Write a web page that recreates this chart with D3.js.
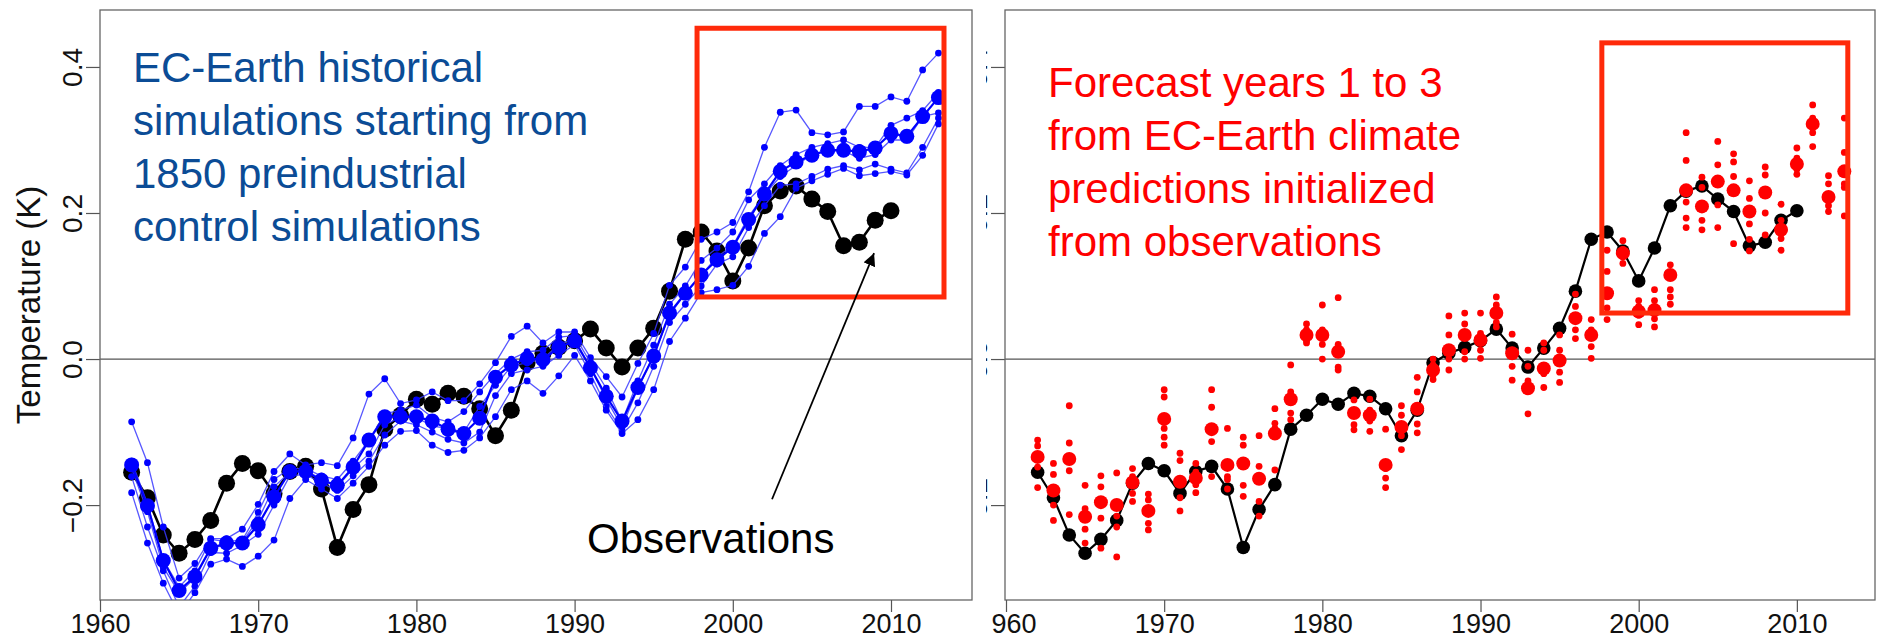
<!DOCTYPE html>
<html><head><meta charset="utf-8">
<script src="https://cdn.jsdelivr.net/npm/d3@7"></script>
<style>
body{margin:0;background:#fff;}
svg{display:block;font-family:"Liberation Sans",Arial,Helvetica,sans-serif;}
</style>
</head><body>
<svg id="c" width="1878" height="639"></svg>
<script>
// ---------------- DATA ----------------
const obsStart = 1962;
const observations = [-0.155,-0.190,-0.241,-0.266,-0.247,-0.221,-0.170,-0.143,-0.153,-0.184,
  -0.154,-0.147,-0.178,-0.258,-0.206,-0.172,-0.096,-0.077,-0.055,-0.062,
  -0.047,-0.051,-0.068,-0.105,-0.070,-0.005,0.008,0.016,0.025,0.041,
  0.015,-0.011,0.015,0.042,0.093,0.164,0.174,0.148,0.107,0.152,
  0.210,0.230,0.237,0.219,0.202,0.155,0.160,0.190,0.203];

const simStart = 1962;
const histMember1 = [-0.086,-0.142,-0.230,-0.300,-0.280,-0.246,-0.246,-0.233,-0.199,-0.154,
  -0.130,-0.145,-0.142,-0.146,-0.108,-0.048,-0.027,-0.061,-0.056,-0.045,
  -0.057,-0.057,-0.034,-0.005,0.031,0.045,0.022,0.037,0.037,0.002,
  -0.024,-0.052,-0.006,0.035,0.101,0.126,0.164,0.174,0.187,0.229,
  0.290,0.338,0.341,0.310,0.307,0.311,0.346,0.346,0.359,0.353,0.396,0.419];
const histMember2 = [-0.140,-0.198,-0.275,-0.312,-0.290,-0.247,-0.250,-0.248,-0.210,-0.165,
  -0.150,-0.150,-0.160,-0.165,-0.140,-0.111,-0.075,-0.070,-0.063,-0.080,
  -0.086,-0.072,-0.045,-0.020,0.000,0.010,0.012,0.030,0.032,-0.005,
  -0.040,-0.085,-0.030,0.019,0.075,0.100,0.135,0.152,0.174,0.218,
  0.240,0.265,0.280,0.290,0.295,0.300,0.290,0.290,0.320,0.330,0.340,0.365];
const histMember3 = [-0.150,-0.209,-0.285,-0.320,-0.300,-0.259,-0.255,-0.250,-0.220,-0.175,
  -0.155,-0.152,-0.165,-0.175,-0.150,-0.130,-0.090,-0.080,-0.080,-0.092,
  -0.095,-0.100,-0.065,-0.036,-0.010,-0.005,0.000,0.020,0.028,-0.012,
  -0.055,-0.093,-0.040,0.005,0.060,0.090,0.115,0.140,0.155,0.195,
  0.225,0.250,0.265,0.280,0.285,0.285,0.275,0.280,0.300,0.300,0.332,0.337];
const histMember4 = [-0.161,-0.230,-0.290,-0.340,-0.311,-0.265,-0.266,-0.255,-0.240,-0.200,
  -0.160,-0.158,-0.170,-0.180,-0.160,-0.140,-0.104,-0.085,-0.090,-0.100,
  -0.110,-0.115,-0.100,-0.050,-0.020,-0.015,-0.010,0.005,0.020,-0.020,
  -0.065,-0.098,-0.060,-0.010,0.050,0.075,0.100,0.130,0.140,0.180,
  0.210,0.238,0.240,0.250,0.260,0.265,0.259,0.267,0.260,0.255,0.290,0.330];
const histMember5 = [-0.183,-0.252,-0.307,-0.350,-0.320,-0.281,-0.274,-0.284,-0.270,-0.248,
  -0.191,-0.165,-0.178,-0.191,-0.170,-0.147,-0.118,-0.099,-0.098,-0.118,
  -0.128,-0.125,-0.108,-0.079,-0.042,-0.030,-0.047,-0.023,0.005,-0.030,
  -0.070,-0.102,-0.083,-0.042,0.024,0.056,0.091,0.095,0.101,0.127,
  0.172,0.195,0.234,0.244,0.253,0.261,0.251,0.254,0.257,0.252,0.279,0.322];
const histMean = [-0.145,-0.201,-0.276,-0.317,-0.298,-0.259,-0.252,-0.252,-0.227,-0.189,
  -0.154,-0.154,-0.166,-0.173,-0.148,-0.111,-0.079,-0.079,-0.079,-0.085,
  -0.096,-0.102,-0.081,-0.025,-0.008,0.001,-0.001,0.016,0.025,-0.012,
  -0.051,-0.085,-0.039,0.004,0.063,0.090,0.115,0.136,0.153,0.191,
  0.226,0.257,0.270,0.279,0.286,0.286,0.284,0.289,0.309,0.305,0.332,0.358];

const fcstStart = 1962;
const forecastMean = [-0.134,-0.180,-0.137,-0.216,-0.196,-0.200,-0.169,-0.208,-0.082,-0.168,
  -0.163,-0.096,-0.145,-0.143,-0.164,-0.102,-0.055,0.033,0.033,0.010,
  -0.074,-0.077,-0.145,-0.093,-0.068,-0.015,0.012,0.033,0.026,0.063,
  0.008,-0.040,-0.013,-0.002,0.056,0.033,0.090,0.145,0.065,0.067,
  0.115,0.231,0.209,0.243,0.231,0.202,0.228,0.177,0.267,0.322,0.222,0.257];
const forecastMembers = [
  [-0.111,-0.119,-0.148,-0.176],[-0.143,-0.158,-0.200,-0.221],[-0.064,-0.115,-0.153,-0.213],
  [-0.173,-0.205,-0.233,-0.252],[-0.160,-0.175,-0.218,-0.259],[-0.156,-0.215,-0.230,-0.271],
  [-0.150,-0.161,-0.184,-0.195],[-0.185,-0.193,-0.225,-0.234],[-0.042,-0.052,-0.095,-0.107,-0.118],
  [-0.129,-0.139,-0.190,-0.208],[-0.143,-0.155,-0.172,-0.183],[-0.042,-0.066,-0.113,-0.161],
  [-0.095,-0.161,-0.165,-0.178],[-0.107,-0.118,-0.173,-0.188],[-0.105,-0.147,-0.195,-0.215],
  [-0.068,-0.088,-0.095,-0.152],[-0.008,-0.045,-0.074,-0.083],[0.048,0.040,0.025,0.022],
  [0.074,0.040,0.020,0.000],[0.084,0.020,-0.011,-0.015],[-0.056,-0.072,-0.090,-0.097],
  [-0.055,-0.070,-0.085,-0.099],[-0.096,-0.150,-0.163,-0.176],[-0.064,-0.077,-0.105,-0.124],
  [-0.025,-0.045,-0.089,-0.101],[0.000,-0.008,-0.022,-0.028],[0.059,0.033,0.000,-0.015],
  [0.063,0.048,0.010,0.000],[0.063,0.035,0.012,0.001],[0.085,0.074,0.050,0.044],
  [0.034,0.012,-0.010,-0.029],[0.012,-0.010,-0.030,-0.075],[0.022,0.012,-0.020,-0.039],
  [0.033,0.012,-0.018,-0.032],[0.089,0.072,0.040,0.028],[0.054,0.040,0.017,0.001],
  [0.149,0.120,0.070,0.054],[0.162,0.150,0.140,0.131],[0.080,0.072,0.060,0.047],
  [0.095,0.080,0.055,0.044],[0.129,0.095,0.085,0.075],[0.310,0.272,0.215,0.193,0.180],
  [0.249,0.235,0.190,0.177],[0.298,0.266,0.211,0.180],[0.281,0.270,0.250,0.158],
  [0.244,0.220,0.185,0.164,0.148],[0.263,0.252,0.200,0.170],[0.212,0.190,0.165,0.149],
  [0.289,0.275,0.260,0.253],[0.348,0.330,0.310,0.291],[0.251,0.240,0.210,0.202],
  [0.330,0.283,0.240,0.235,0.196]];

const xTicks = [1960,1970,1980,1990,2000,2010];
const yTicks = [-0.2,0.0,0.2,0.4];
const yTitle = "Temperature (K)";
const leftText = ["EC-Earth historical","simulations starting from","1850 preindustrial","control simulations"];
const rightText = ["Forecast years 1 to 3","from EC-Earth climate","predictions initialized","from observations"];
const obsLabel = "Observations";
// highlight boxes (data coords): [year0, year1, vLow, vHigh]
const leftBox = [1997.74, 2013.35, 0.085, 0.453];
const rightBox = [1997.67, 2013.22, 0.063, 0.433];
const arrowFrom = [2002.48, -0.192], arrowTo = [2008.93, 0.145];

// ---------------- CHART ----------------
const svg = d3.select('#c');
const y = d3.scaleLinear().domain([-0.33, 0.478]).range([600, 10]);
const xL = d3.scaleLinear().domain([1960, 2015.12]).range([100, 972]);
const xR = d3.scaleLinear().domain([1960, 2014.94]).range([1006, 1875]);

const defs = svg.append('defs');
defs.append('clipPath').attr('id','clipL').append('rect').attr('x',100).attr('y',10).attr('width',872).attr('height',590);
defs.append('clipPath').attr('id','clipR').append('rect').attr('x',1005).attr('y',10).attr('width',870).attr('height',590);
defs.append('clipPath').attr('id','clipRA').append('rect').attr('x',986).attr('y',0).attr('width',892).attr('height',639);
defs.append('clipPath').attr('id','clipRX').append('rect').attr('x',991).attr('y',0).attr('width',887).attr('height',639);
defs.append('marker').attr('id','arr').attr('viewBox','0 0 10 10').attr('refX',10).attr('refY',5)
  .attr('markerWidth',7).attr('markerHeight',7).attr('markerUnits','strokeWidth').attr('orient','auto')
  .append('path').attr('d','M0,0 L10,5 L0,10 z').attr('fill','#000');

const tickFmt = d3.format('.1f');
function panel(x, left){
  const g = svg.append('g');
  if(!left) g.attr('clip-path','url(#clipRA)');
  const x0 = x.range()[0] - (left?0:1);
  const x1 = x.range()[1];
  g.append('line').attr('x1', x0).attr('x2', x1).attr('y1', y(0)).attr('y2', y(0))
    .attr('stroke','#555').attr('stroke-width',1.2);
  const gx = svg.append('g');
  if(!left) gx.attr('clip-path','url(#clipRX)');
  const ax = gx.append('g').attr('transform','translate(0,600)')
    .call(d3.axisBottom(x).tickValues(xTicks).tickSize(12).tickPadding(2).tickFormat(d3.format('d')));
  ax.select('.domain').remove();
  ax.selectAll('line').attr('stroke','#555').attr('stroke-width',1.2);
  ax.selectAll('text').attr('font-size',27).attr('fill','#111').attr('font-family','"Liberation Sans",Arial,sans-serif');
  const ay = g.append('g').attr('transform',`translate(${x0},0)`)
    .call(d3.axisLeft(y).tickValues(yTicks).tickSize(14).tickFormat(tickFmt));
  ay.select('.domain').remove();
  ay.selectAll('line').attr('stroke','#555').attr('stroke-width',1.2);
  ay.selectAll('text').attr('transform','rotate(-90)').attr('x',0).attr('y',-18).attr('dy',0)
    .attr('text-anchor','middle').attr('font-size',28).attr('fill','#111')
    .attr('font-family','"Liberation Sans",Arial,sans-serif');
  g.append('rect').attr('x',x0).attr('y',10).attr('width',x1-x0).attr('height',590)
    .attr('fill','none').attr('stroke','#666').attr('stroke-width',1.3);
  return g;
}
panel(xL, true);
panel(xR, false);

svg.append('text').attr('transform','translate(40,305) rotate(-90)').attr('text-anchor','middle')
  .attr('font-size',33).attr('fill','#111').text(yTitle);

// ---- left panel data
const gl = svg.append('g').attr('clip-path','url(#clipL)');
const obsYears = observations.map((_,i)=>obsStart+i);
const simYears = histMean.map((_,i)=>simStart+i);
function drawObs(g, x, lw, r){
  g.append('path').datum(observations)
    .attr('d', d3.line().x((d,i)=>x(obsYears[i])).y(d=>y(d)))
    .attr('fill','none').attr('stroke','#000').attr('stroke-width',lw);
  g.selectAll(null).data(observations).enter().append('circle')
    .attr('cx',(d,i)=>x(obsYears[i])).attr('cy',d=>y(d)).attr('r',r).attr('fill','#000');
}
drawObs(gl, xL, 2.6, 8.5);
[histMember1,histMember2,histMember3,histMember4,histMember5].forEach(m=>{
  gl.append('path').datum(m)
    .attr('d', d3.line().x((d,i)=>xL(simYears[i])).y(d=>y(d)))
    .attr('fill','none').attr('stroke','#3a3aff').attr('stroke-opacity',0.85).attr('stroke-width',1.3);
  gl.selectAll(null).data(m).enter().append('circle')
    .attr('cx',(d,i)=>xL(simYears[i])).attr('cy',d=>y(d)).attr('r',3.4).attr('fill','#0000ff');
});
gl.append('path').datum(histMean)
  .attr('d', d3.line().x((d,i)=>xL(simYears[i])).y(d=>y(d)))
  .attr('fill','none').attr('stroke','#0000ff').attr('stroke-width',2.2);
gl.selectAll(null).data(histMean).enter().append('circle')
  .attr('cx',(d,i)=>xL(simYears[i])).attr('cy',d=>y(d)).attr('r',7.5).attr('fill','#0000ff');

// ---- right panel data
const gr = svg.append('g').attr('clip-path','url(#clipR)');
drawObs(gr, xR, 2.2, 6.8);
const fYears = forecastMean.map((_,i)=>fcstStart+i);
forecastMembers.forEach((arr,i)=>{
  gr.selectAll(null).data(arr).enter().append('circle')
    .attr('cx',xR(fYears[i])).attr('cy',d=>y(d)).attr('r',3.4).attr('fill','#ff0000');
});
gr.selectAll(null).data(forecastMean).enter().append('circle')
  .attr('cx',(d,i)=>xR(fYears[i])).attr('cy',d=>y(d)).attr('r',7).attr('fill','#ff0000');

// ---- annotations
function box(x, b){
  svg.append('rect').attr('x',x(b[0])).attr('y',y(b[3]))
    .attr('width',x(b[1])-x(b[0])).attr('height',y(b[2])-y(b[3]))
    .attr('fill','none').attr('stroke','#ff2a0a').attr('stroke-width',5);
}
box(xL, leftBox);
box(xR, rightBox);

const tl = svg.append('text').attr('font-size',42).attr('fill','#0b4c96');
leftText.forEach((t,i)=>tl.append('tspan').attr('x',133).attr('y',82+i*53).text(t));
const tr = svg.append('text').attr('font-size',42).attr('fill','#ff0000');
rightText.forEach((t,i)=>tr.append('tspan').attr('x',1048).attr('y',97+i*53).text(t));

svg.append('line').attr('x1',xL(arrowFrom[0])).attr('y1',y(arrowFrom[1]))
  .attr('x2',xL(arrowTo[0])).attr('y2',y(arrowTo[1]))
  .attr('stroke','#000').attr('stroke-width',1.8).attr('marker-end','url(#arr)');
svg.append('text').attr('x',587).attr('y',553).attr('font-size',42).attr('fill','#000').text(obsLabel);
</script>
</body></html>
